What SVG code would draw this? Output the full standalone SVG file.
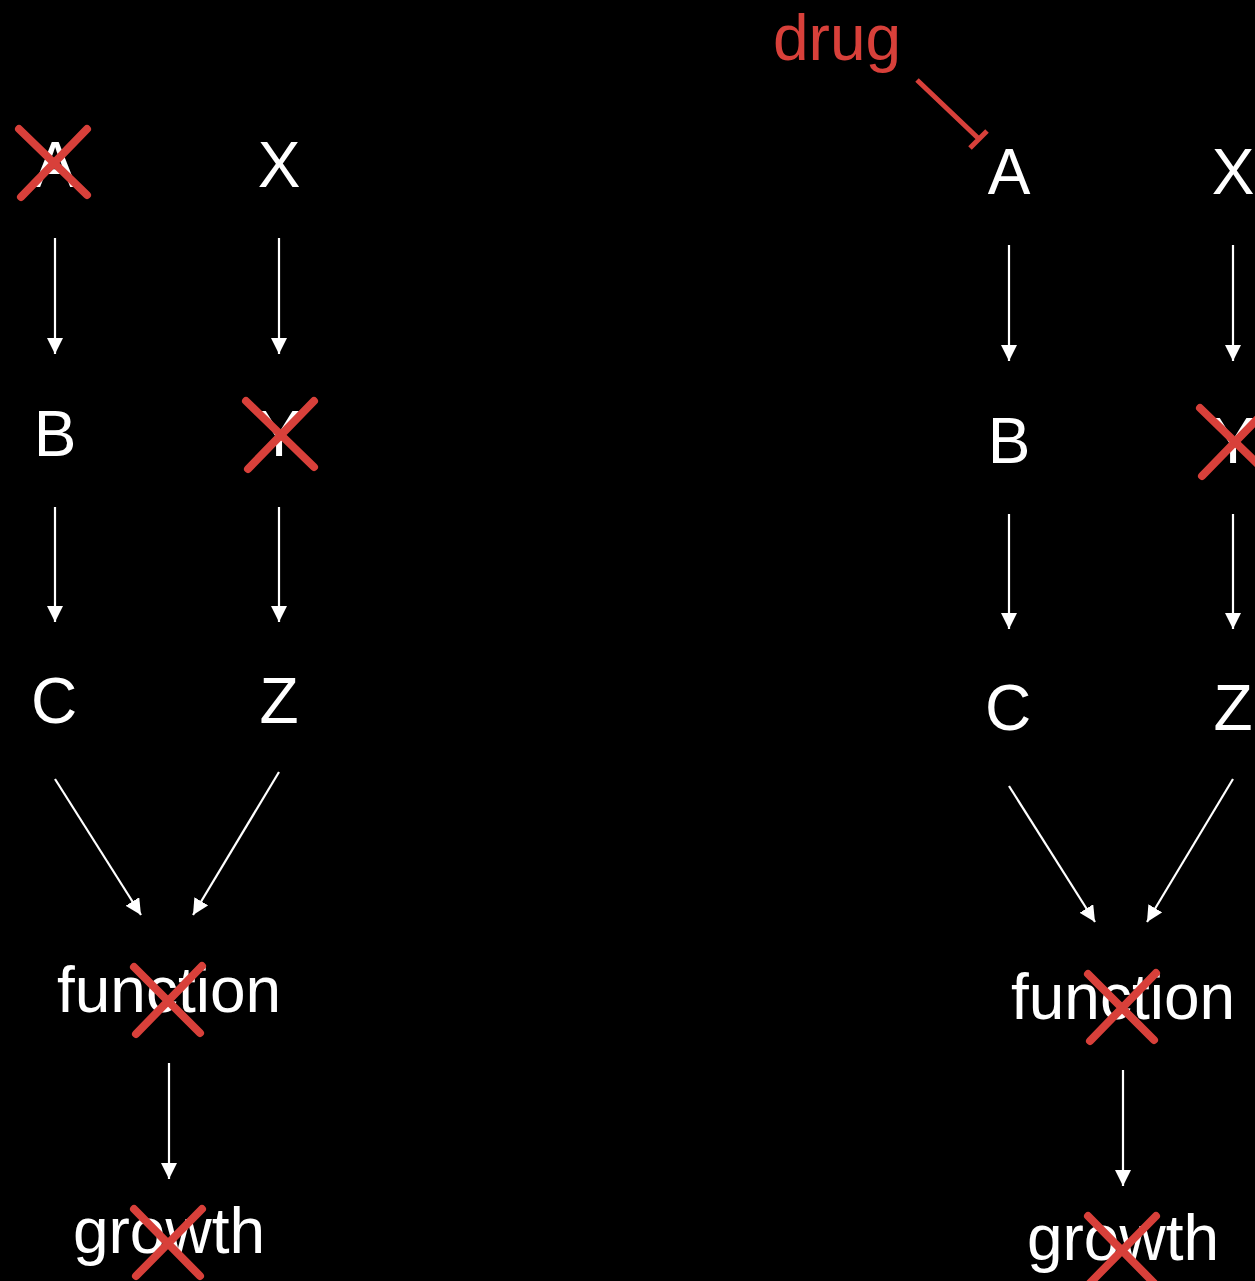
<svg xmlns="http://www.w3.org/2000/svg" width="1255" height="1281" viewBox="0 0 1255 1281">
<defs>
<marker id="ah" markerUnits="userSpaceOnUse" markerWidth="17" markerHeight="16" refX="16" refY="8" orient="auto">
<path d="M0,0 L16,8 L0,16 Z" fill="#fff"/>
</marker>
<style>
.t{font-family:"Liberation Sans",Arial,sans-serif;font-size:64px;fill:#fff;text-anchor:middle}
.d{font-family:"Liberation Sans",Arial,sans-serif;font-size:64px;fill:#d8403a}
.e{stroke:#fff;stroke-width:2.2;fill:none;marker-end:url(#ah)}
.x{stroke:#d8403a;stroke-width:8;stroke-linecap:round;fill:none}
.inh{stroke:#d8403a;stroke-width:5;fill:none}
</style>
</defs>
<rect width="1255" height="1281" fill="#000"/>
<g id="left">
<g id="nodeA1"><text class="t" x="55" y="187">A</text></g>
<g id="nodeX1"><text class="t" x="279" y="187">X</text></g>
<g id="nodeB1"><text class="t" x="55" y="456">B</text></g>
<g id="nodeY1"><text class="t" x="279" y="456">Y</text></g>
<g id="nodeC1"><text class="t" x="54" y="723">C</text></g>
<g id="nodeZ1"><text class="t" x="279" y="723">Z</text></g>
<g id="nodeF1"><text class="t" x="169" y="1012">function</text></g>
<g id="nodeG1"><text class="t" x="169" y="1253">growth</text></g>
<g id="connectors1">
<line class="e" x1="55" y1="238" x2="55" y2="354"/>
<line class="e" x1="279" y1="238" x2="279" y2="354"/>
<line class="e" x1="55" y1="507" x2="55" y2="622"/>
<line class="e" x1="279" y1="507" x2="279" y2="622"/>
<line class="e" x1="55" y1="779" x2="141" y2="915"/>
<line class="e" x1="279" y1="772" x2="193" y2="915"/>
<line class="e" x1="169" y1="1063" x2="169" y2="1179"/>
</g>
<g id="crosses1">
<path class="x" d="M19,129 L87,195 M21,197 L87,129"/>
<path class="x" d="M246,401 L314,467 M248,469 L314,401"/>
<path class="x" d="M134,967 L200,1033 M136,1034 L202,966"/>
<path class="x" d="M134,1209 L200,1276 M136,1276 L202,1209"/>
</g>
</g>
<g id="right" transform="translate(954,7)">
<g id="nodeA2"><text class="t" x="55" y="187">A</text></g>
<g id="nodeX2"><text class="t" x="279" y="187">X</text></g>
<g id="nodeB2"><text class="t" x="55" y="456">B</text></g>
<g id="nodeY2"><text class="t" x="279" y="456">Y</text></g>
<g id="nodeC2"><text class="t" x="54" y="723">C</text></g>
<g id="nodeZ2"><text class="t" x="279" y="723">Z</text></g>
<g id="nodeF2"><text class="t" x="169" y="1012">function</text></g>
<g id="nodeG2"><text class="t" x="169" y="1253">growth</text></g>
<g id="connectors2">
<line class="e" x1="55" y1="238" x2="55" y2="354"/>
<line class="e" x1="279" y1="238" x2="279" y2="354"/>
<line class="e" x1="55" y1="507" x2="55" y2="622"/>
<line class="e" x1="279" y1="507" x2="279" y2="622"/>
<line class="e" x1="55" y1="779" x2="141" y2="915"/>
<line class="e" x1="279" y1="772" x2="193" y2="915"/>
<line class="e" x1="169" y1="1063" x2="169" y2="1179"/>
</g>
<g id="crosses2">
<path class="x" d="M246,401 L314,467 M248,469 L314,401"/>
<path class="x" d="M134,967 L200,1033 M136,1034 L202,966"/>
<path class="x" d="M134,1209 L200,1276 M136,1276 L202,1209"/>
</g>
</g>
<g id="drug"><text class="d" x="773" y="60">drug</text></g>
<g id="inhibitor">
<path class="inh" d="M917,80 L979,139 M970,148 L987,131"/>
</g>
</svg>
